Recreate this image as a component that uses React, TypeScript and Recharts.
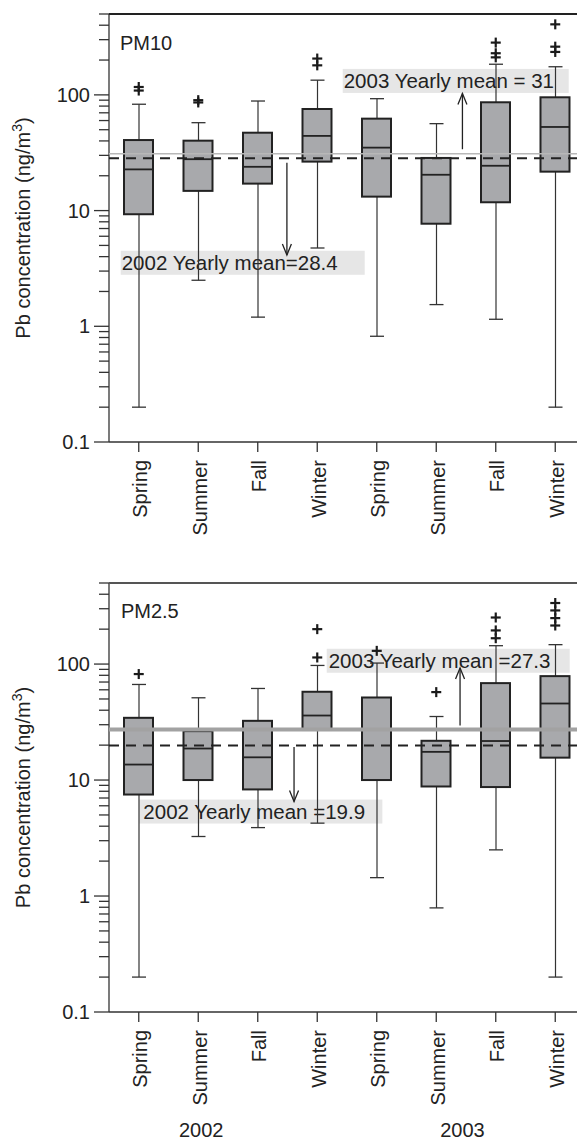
import React from 'react';
import { ComposedChart, Bar, Scatter, XAxis, YAxis, ReferenceLine, ReferenceDot } from 'recharts';

const FONT = '"Liberation Sans", Arial, Helvetica, sans-serif';

const seasons = ['Spring', 'Summer', 'Fall', 'Winter', 'Spring', 'Summer', 'Fall', 'Winter'];
const positions = [0, 1, 2, 3, 4, 5, 6, 7];
const years = ['2002', '2003'];
const yearPos = [1.05, 5.44];

const logTicks = [
  0.1, 0.2, 0.3, 0.4, 0.5, 0.6, 0.7, 0.8, 0.9,
  1, 2, 3, 4, 5, 6, 7, 8, 9,
  10, 20, 30, 40, 50, 60, 70, 80, 90,
  100, 200, 300, 400, 500,
];
const majorTicks = [0.1, 1, 10, 100];

// PM10
const pm10Min = [0.2, 2.5, 1.2, 4.75, 0.82, 1.54, 1.15, 0.2];
const pm10Q1 = [9.3, 14.8, 17.1, 26.5, 13.2, 7.7, 11.8, 21.7];
const pm10Med = [22.7, 27.8, 23.9, 44.2, 35, 20.4, 24.4, 52.8];
const pm10Q3 = [40.7, 40.2, 47.1, 75.5, 62.3, 28.5, 86.3, 95.3];
const pm10Max = [83, 57.5, 88.5, 134, 92.7, 56.4, 184, 175];
const pm10Out = [[117, 109], [90, 86], [], [206, 180], [], [], [283, 229, 211], [407, 261, 235]];
const pm10Means = [28.4, 31];

// PM2.5
const pm25Min = [0.2, 3.26, 3.89, 4.25, 1.44, 0.79, 2.5, 0.2];
const pm25Q1 = [7.5, 10.0, 8.3, 27.0, 10.0, 8.8, 8.7, 15.6];
const pm25Med = [13.6, 18.7, 15.7, 36, 27, 17.5, 21.7, 45.7];
const pm25Q3 = [34.4, 26.4, 32.4, 57.7, 51.5, 21.8, 68.5, 78.7];
const pm25Max = [66.7, 51.2, 61.6, 97.3, 102, 35.3, 144, 147];
const pm25Out = [[82], [], [], [200, 114], [130], [57.3], [252, 195, 167], [336, 290, 249, 215]];
const pm25Means = [19.9, 27.3];

const buildRows = (lo: number[], q1: number[], med: number[], q3: number[], hi: number[], out: number[][]) =>
  positions.map((i) => ({
    pos: i,
    lo: lo[i],
    q1: q1[i],
    med: med[i],
    q3: q3[i],
    hi: hi[i],
    o0: out[i][0] ?? null,
    o1: out[i][1] ?? null,
    o2: out[i][2] ?? null,
    o3: out[i][3] ?? null,
  }));

const pm10Rows = buildRows(pm10Min, pm10Q1, pm10Med, pm10Q3, pm10Max, pm10Out);
const pm25Rows = buildRows(pm25Min, pm25Q1, pm25Med, pm25Q3, pm25Max, pm25Out);

const YTick = (p: any) => {
  const { x, y, payload } = p;
  const major = majorTicks.includes(payload.value);
  return (
    <g>
      <line x1={x - (major ? 15 : 10)} x2={x} y1={y} y2={y} stroke="#333" strokeWidth={1.3} />
      {major && (
        <text x={x - 19} y={y} dy={7} textAnchor="end" fontSize={20} fill="#222" fontFamily={FONT}>
          {payload.value}
        </text>
      )}
    </g>
  );
};

const XTick = (p: any) => {
  const { x, y, payload } = p;
  const ty = y + 18;
  return (
    <g>
      <line x1={x} x2={x} y1={y} y2={y + 10} stroke="#333" strokeWidth={1.3} />
      <text x={x} y={ty} dy={8.5} transform={`rotate(-90 ${x} ${ty})`} textAnchor="end" fontSize={20} fill="#222" fontFamily={FONT}>
        {seasons[payload.value]}
      </text>
    </g>
  );
};

// year caption under the season ticks, anchored at the bottom of the y domain
const yearShape = (text: string) => (p: any) => (
  <text x={p.cx} y={p.cy + 125} textAnchor="middle" fontSize={20} fill="#222" fontFamily={FONT}>
    {text}
  </text>
);

const YLabel = (p: any) => {
  const vb = p.viewBox || { x: 0, y: 0, width: 0, height: 0 };
  const cx = vb.x + 29.5;
  const cy = vb.y + vb.height / 2;
  return (
    <text x={cx} y={cy} transform={`rotate(-90 ${cx} ${cy})`} textAnchor="middle" fontSize={20} fill="#222" fontFamily={FONT}>
      <tspan>Pb concentration (ng/m</tspan>
      <tspan dy={-8} fontSize={14}>3</tspan>
      <tspan dy={8}>)</tspan>
    </text>
  );
};

const Whisker = (p: any) => {
  const { x, y, width, height } = p;
  const cx = x + width / 2;
  return (
    <g>
      <line x1={cx} x2={cx} y1={y} y2={y + height} stroke="#333" strokeWidth={1.2} />
      <line x1={x} x2={x + width} y1={y} y2={y} stroke="#333" strokeWidth={1.3} />
      <line x1={x} x2={x + width} y1={y + height} y2={y + height} stroke="#333" strokeWidth={1.3} />
    </g>
  );
};

const BoxShape = (p: any) => {
  const { x, y, width, height } = p;
  return <rect x={x} y={y} width={width} height={height} fill="#a8a9ac" stroke="#222" strokeWidth={2} />;
};

const MedianShape = (p: any) => {
  const { cx, cy } = p;
  if (!Number.isFinite(cx) || !Number.isFinite(cy)) return <g />;
  return <line x1={cx - 14.5} x2={cx + 14.5} y1={cy} y2={cy} stroke="#222" strokeWidth={1.8} />;
};

const PlusShape = (p: any) => {
  const { cx, cy } = p;
  if (!Number.isFinite(cx) || !Number.isFinite(cy)) return <g />;
  return (
    <g stroke="#1a1a1a" strokeWidth={2.2}>
      <line x1={cx - 5} x2={cx + 5} y1={cy} y2={cy} />
      <line x1={cx} x2={cx} y1={cy - 5} y2={cy + 5} />
    </g>
  );
};

const ArrowShape = (p: any) => {
  const { x1, y1, x2, y2 } = p;
  const dir = y2 > y1 ? 1 : -1;
  return (
    <g stroke="#222" strokeWidth={1.3} fill="none">
      <line x1={x1} x2={x2} y1={y1} y2={y2} />
      <polyline points={`${x2 - 4.5},${y2 - dir * 11} ${x2},${y2} ${x2 + 4.5},${y2 - dir * 11}`} />
    </g>
  );
};

const noteShape = (text: string, w: number, pad: number) => (p: any) => {
  const { cx, cy } = p;
  return (
    <g>
      <rect x={cx} y={cy - 12} width={w} height={24} fill="#e6e6e6" />
      <text x={cx + pad} y={cy + 7.5} fontSize={20.5} fill="#222" fontFamily={FONT}>
        {text}
      </text>
    </g>
  );
};

const titleShape = (text: string) => (p: any) => (
  <text x={p.cx} y={p.cy} fontSize={20} fill="#222" fontFamily={FONT}>
    {text}
  </text>
);

type Note = { x: number; y: number; text: string; w: number; pad: number };
type Arrow = { x: number; from: number; to: number };

type PanelProps = {
  rows: any[];
  means: number[];
  title: string;
  titleAt: number[];
  notes: Note[];
  arrows: Arrow[];
  height: number;
  top: number;
  bottom: number;
  xAxisHeight: number;
  showYears: boolean;
  thick: boolean;
  borderColor: string;
};

const Panel = (props: PanelProps) => {
  const { rows, means, title, titleAt, notes, arrows, height, top, bottom, xAxisHeight, showYears, thick, borderColor } = props;
  return (
    <ComposedChart width={610} height={height} data={rows} margin={{ top, right: 25, bottom, left: 0 }}>
      <XAxis
        dataKey="pos"
        type="number"
        domain={[-0.5, 7.5]}
        allowDataOverflow
        ticks={positions}
        interval={0}
        tick={<XTick />}
        tickLine={false}
        tickSize={0}
        tickMargin={0}
        height={xAxisHeight}
        axisLine={{ stroke: '#333', strokeWidth: 1.3 }}
      />
      <XAxis xAxisId="wh" dataKey="pos" type="number" domain={[-0.5, 7.5]} allowDataOverflow ticks={positions} hide />
      <XAxis xAxisId="bx" dataKey="pos" type="number" domain={[-0.5, 7.5]} allowDataOverflow ticks={positions} hide />
      <YAxis
        type="number"
        scale="log"
        domain={[0.1, 500]}
        allowDataOverflow
        ticks={logTicks}
        interval={0}
        tick={<YTick />}
        tickLine={false}
        tickSize={0}
        tickMargin={0}
        width={109}
        axisLine={{ stroke: '#333', strokeWidth: 1.3 }}
        label={<YLabel />}
      />

      {notes.map((n) => (
        <ReferenceDot key={n.text} x={n.x} y={n.y} r={1} shape={noteShape(n.text, n.w, n.pad)} zIndex={50} />
      ))}

      <Bar xAxisId="wh" dataKey={(d: any) => [d.lo, d.hi]} barSize={14} shape={<Whisker />} isAnimationActive={false} />
      <Bar xAxisId="bx" dataKey={(d: any) => [d.q1, d.q3]} barSize={29} shape={<BoxShape />} isAnimationActive={false} />
      <Scatter dataKey="med" shape={<MedianShape />} isAnimationActive={false} />

      <ReferenceLine y={means[1]} stroke={thick ? '#a2a2a2' : '#b8b8b8'} strokeWidth={thick ? 4 : 1.6} zIndex={650} />
      <ReferenceLine y={means[0]} stroke="#222" strokeWidth={2} strokeDasharray="10 7" zIndex={650} />

      {arrows.map((a) => (
        <ReferenceLine
          key={a.x}
          segment={[{ x: a.x, y: a.from }, { x: a.x, y: a.to }]}
          shape={<ArrowShape />}
          ifOverflow="visible"
          zIndex={650}
        />
      ))}

      <Scatter dataKey="o0" shape={<PlusShape />} isAnimationActive={false} />
      <Scatter dataKey="o1" shape={<PlusShape />} isAnimationActive={false} />
      <Scatter dataKey="o2" shape={<PlusShape />} isAnimationActive={false} />
      <Scatter dataKey="o3" shape={<PlusShape />} isAnimationActive={false} />

      <ReferenceLine y={500} stroke={borderColor} strokeWidth={1.8} ifOverflow="visible" zIndex={700} />
      <ReferenceDot x={titleAt[0]} y={titleAt[1]} r={1} shape={titleShape(title)} zIndex={700} />

      {showYears &&
        years.map((yr, i) => (
          <ReferenceDot key={yr} x={yearPos[i]} y={0.1} r={1} ifOverflow="visible" shape={yearShape(yr)} zIndex={700} />
        ))}
    </ComposedChart>
  );
};

export default function App() {
  return (
    <div style={{ position: 'absolute', left: 0, top: 0, width: 577, height: 1143, overflow: 'hidden', background: '#fff', fontFamily: FONT }}>
      <Panel
        rows={pm10Rows}
        means={pm10Means}
        title="PM10"
        titleAt={[-0.315, 244]}
        notes={[
          { x: -0.303, y: 3.54, text: '2002 Yearly mean=28.4', w: 244, pad: 1 },
          { x: 3.428, y: 132, text: '2003 Yearly mean = 31', w: 226, pad: 1 },
        ]}
        arrows={[
          { x: 2.49, from: 25.9, to: 4.13 },
          { x: 5.44, from: 33.9, to: 103 },
        ]}
        height={568}
        top={14}
        bottom={16}
        xAxisHeight={110}
        showYears={false}
        thick={false}
        borderColor="#222"
      />
      <Panel
        rows={pm25Rows}
        means={pm25Means}
        title="PM2.5"
        titleAt={[-0.3, 249]}
        notes={[
          { x: 0.01, y: 5.35, text: '2002 Yearly mean =19.9', w: 243, pad: 4 },
          { x: 3.159, y: 106.8, text: '2003 Yearly mean =27.3', w: 243, pad: 2 },
        ]}
        arrows={[
          { x: 2.61, from: 19.3, to: 6.52 },
          { x: 5.4, from: 29.5, to: 92.4 },
        ]}
        height={575}
        top={15}
        bottom={41}
        xAxisHeight={90}
        showYears={true}
        thick={true}
        borderColor="#555"
      />
    </div>
  );
}
